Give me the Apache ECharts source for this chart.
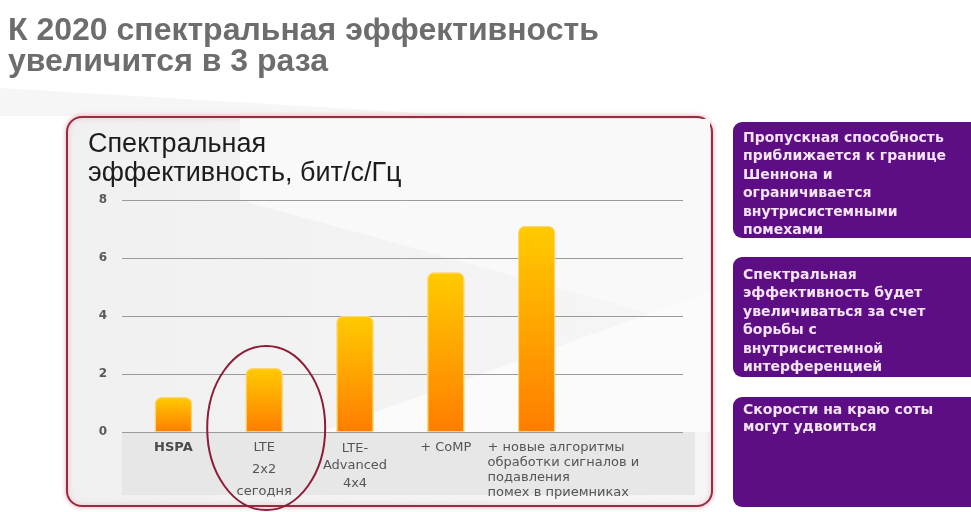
<!DOCTYPE html>
<html>
<head>
<meta charset="utf-8">
<script src="https://cdn.jsdelivr.net/npm/echarts@6/dist/echarts.min.js"></script>
<style>
  html, body { margin: 0; padding: 0; background: #ffffff; }
  #chart { width: 971px; height: 512px; }
</style>
</head>
<body>
<div id="chart"></div>
<script>
// Spectral efficiency by technology generation, bit/s/Hz
const headline = ['К 2020 спектральная эффективность', 'увеличится в 3 раза'];
const axisTitle = ['Спектральная', 'эффективность, бит/с/Гц'];
const categories = [
  'HSPA',
  'LTE\n2x2\nсегодня',
  'LTE-\nAdvanced\n4x4',
  '+ CoMP',
  '+ новые алгоритмы\nобработки сигналов и\nподавления\nпомех в приемниках'
];
const efficiency = [1.2, 2.2, 4.0, 5.5, 7.1];
const yTicks = [0, 2, 4, 6, 8];
const highlighted = 1; // "LTE 2x2 сегодня" is circled

// Side notes
const noteA = ['Пропускная способность', 'приближается к границе', 'Шеннона и', 'ограничивается', 'внутрисистемными', 'помехами'];
const noteB = ['Спектральная', 'эффективность будет', 'увеличиваться за счет', 'борьбы с', 'внутрисистемной', 'интерференцией'];
const noteC = ['Скорости на краю соты', 'могут удвоиться'];

const chart = echarts.init(document.getElementById('chart'), null, { renderer: 'canvas' });

const yMin = yTicks[0];
const yMax = yTicks[yTicks.length - 1];
const yStep = yTicks[1] - yTicks[0];

// per-category label styling
const labelStyles = [
  { fontWeight: 'bold', lineHeight: 22, color: '#4a4a4a' },
  { lineHeight: 22 },
  { lineHeight: 17.5, padding: [2.5, 0, 0, 0] },
  { lineHeight: 22 },
  { lineHeight: 15.3, align: 'left', padding: [2.5, 0, 0, -49] }
];
const xData = categories.map((c, i) => ({ value: c, textStyle: labelStyles[i] }));

const PURPLE = '#5e0e84';
const NOTE_FONT = 'bold 14px "DejaVu Sans"';
const NOTE_COLOR = '#f4e4f6';

function noteText(lines, top, lh) {
  return {
    type: 'text', z: 5,
    style: { text: lines.join('\n'), x: 743, y: top, font: NOTE_FONT, fill: NOTE_COLOR, lineHeight: lh, verticalAlign: 'top' }
  };
}

const option = {
  backgroundColor: '#ffffff',
  animation: false,
  title: [
    {
      text: headline.join('\n'), left: 8, top: 16, padding: 0,
      textStyle: { fontFamily: 'Liberation Sans', fontSize: 32, fontWeight: 'bold', color: '#6d6d6d', lineHeight: 31 }
    },
    {
      text: axisTitle.join('\n'), left: 88, top: 130, padding: 0,
      textStyle: { fontFamily: 'Liberation Sans', fontSize: 27, fontWeight: 'normal', color: '#1c1c1c', lineHeight: 29 }
    }
  ],
  grid: [
    { left: 122, right: 288, top: 200, bottom: 80 },
    { left: 128, width: 454, top: 200, bottom: 80 }
  ],
  xAxis: [
    { gridIndex: 0, type: 'value', show: false, min: 0, max: 1 },
    {
      gridIndex: 1, type: 'category', data: xData,
      axisLine: { show: false }, axisTick: { show: false },
      axisLabel: {
        interval: 0, margin: 5, color: '#555555',
        fontFamily: 'DejaVu Sans', fontSize: 13, lineHeight: 22
      }
    }
  ],
  yAxis: [
    {
      gridIndex: 0, type: 'value', min: yMin, max: yMax, interval: yStep,
      axisLine: { show: false }, axisTick: { show: false },
      axisLabel: { margin: 15, color: '#5a5a5a', fontFamily: 'DejaVu Sans', fontWeight: 'bold', fontSize: 12 },
      splitLine: { lineStyle: { color: '#9a9a9a', width: 1 } }
    },
    { gridIndex: 1, type: 'value', min: yMin, max: yMax, interval: yStep, show: false, splitLine: { show: false } }
  ],
  series: [
    {
      type: 'bar', xAxisIndex: 1, yAxisIndex: 1, data: efficiency, barWidth: 37,
      itemStyle: {
        borderRadius: [6, 6, 0, 0],
        color: new echarts.graphic.LinearGradient(0, 0, 0, 1, [
          { offset: 0, color: '#ffcb00' },
          { offset: 1, color: '#ff7d00' }
        ]),
        borderColor: 'rgba(255,214,110,0.9)', borderWidth: 1
      }
    }
  ],
  graphic: []
};

chart.setOption(option);

// decorations placed from axis geometry
const zero = chart.convertToPixel({ xAxisIndex: 1, yAxisIndex: 1 }, [highlighted, 0]);

chart.setOption({
  graphic: [
    // faint slide shading behind the headline
    { type: 'polygon', z: -20, shape: { points: [[0, 88], [470, 116], [0, 116]] }, style: { fill: '#f6f6f6' } },
    // chart panel
    {
      type: 'rect', z: -12,
      shape: { x: 67, y: 117, width: 645, height: 389, r: 15 },
      style: {
        fill: new echarts.graphic.LinearGradient(0, 0, 1, 0, [
          { offset: 0, color: '#f0f0f0' }, { offset: 1, color: '#f6f6f6' }
        ]),
        stroke: '#9a2c42', lineWidth: 2,
        shadowBlur: 5, shadowColor: 'rgba(225,120,140,0.55)'
      }
    },
    { type: 'polygon', z: -11, shape: { points: [[240, 119], [710, 119], [710, 330], [240, 200]] }, style: { fill: '#f9f9f9' } },
    { type: 'polygon', z: -11, shape: { points: [[320, 432], [710, 292], [710, 432]] }, style: { fill: '#fbfbfb' } },
    // label band under the axis
    { type: 'rect', z: -10, shape: { x: 122, y: zero[1], width: 573, height: 63 }, style: { fill: '#e7e7e7' } },
    // circle around today's technology
    {
      type: 'ellipse', z: 20,
      shape: { cx: zero[0] + 2, cy: zero[1] - 4, rx: 59, ry: 82 },
      style: { fill: 'none', stroke: '#8e1c36', lineWidth: 2 }
    },
    // side notes
    { type: 'rect', z: 4, shape: { x: 733, y: 122, width: 260, height: 116, r: 9 }, style: { fill: PURPLE } },
    { type: 'rect', z: 4, shape: { x: 733, y: 257, width: 260, height: 120, r: 9 }, style: { fill: PURPLE } },
    { type: 'rect', z: 4, shape: { x: 733, y: 397, width: 260, height: 110, r: 9 }, style: { fill: PURPLE } },
    noteText(noteA, 128.75, 18.5),
    noteText(noteB, 265.75, 18.5),
    noteText(noteC, 401.5, 17)
  ]
});
</script>
</body>
</html>
